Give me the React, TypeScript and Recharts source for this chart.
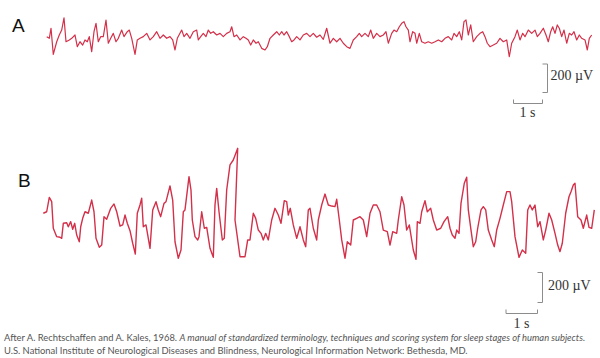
import React from 'react';
import { LineChart, Line, XAxis, YAxis } from 'recharts';

// trace A (time in s, amplitude in µV)
const timeA = [
    0.223, 0.31, 0.367, 0.443, 0.557, 0.643, 0.723, 0.8, 0.867, 0.977, 1.057, 1.167, 1.243, 1.333, 1.423, 1.5,
    1.577, 1.643, 1.723, 1.8, 1.867, 1.943, 2.023, 2.11, 2.2, 2.277, 2.357, 2.443, 2.533, 2.61, 2.723, 2.8,
    2.91, 2.977, 3.057, 3.167, 3.243, 3.333, 3.443, 3.557, 3.667, 3.777, 3.89, 4.0, 4.11, 4.223, 4.333, 4.423,
    4.5, 4.577, 4.723, 4.8, 4.89, 5.0, 5.11, 5.223, 5.277, 5.357, 5.443, 5.533, 5.61, 5.69, 5.777, 5.89,
    6.0, 6.11, 6.223, 6.333, 6.39, 6.467, 6.557, 6.667, 6.777, 6.867, 6.943, 7.023, 7.11, 7.2, 7.277, 7.39,
    7.5, 7.577, 7.667, 7.777, 7.89, 7.977, 8.057, 8.133, 8.223, 8.31, 8.39, 8.467, 8.557, 8.667, 8.777, 8.89,
    9.0, 9.11, 9.223, 9.333, 9.443, 9.557, 9.667, 9.777, 9.89, 10.0, 10.11, 10.223, 10.333, 10.443, 10.557, 10.643,
    10.723, 10.833, 10.943, 11.023, 11.11, 11.223, 11.333, 11.443, 11.533, 11.61, 11.723, 11.8, 11.89, 11.977, 12.057, 12.133,
    12.2, 12.277, 12.333, 12.423, 12.5, 12.557, 12.643, 12.723, 12.833, 12.943, 13.057, 13.167, 13.277, 13.39, 13.5, 13.61,
    13.723, 13.8, 13.89, 13.977, 14.057, 14.133, 14.2, 14.277, 14.357, 14.443, 14.557, 14.667, 14.757, 14.833, 14.91, 15.0,
    15.11, 15.223, 15.333, 15.443, 15.557, 15.643, 15.723, 15.833, 15.91, 16.0, 16.09, 16.167, 16.277, 16.39, 16.5, 16.577,
    16.667, 16.777, 16.867, 16.943, 17.023, 17.09, 17.167, 17.243, 17.31, 17.39, 17.467, 17.557, 17.643, 17.723, 17.8, 17.89,
    17.977, 18.057, 18.167, 18.243, 18.31, 18.39,
];
const voltA = [
    9, -2, 65, -109, -25, 20, 53, 135, -25, -13, -2, 20, -58, -25, -47, -13,
    -25, 9, -91, 42, 98, -25, 9, 9, 120, -35, -2, 31, -25, -2, 53, 9,
    42, 53, -2, -109, -13, -2, 9, 31, -13, 9, 42, -2, 20, -2, 9, -13,
    -80, -2, 53, 9, 31, -2, 42, 53, -13, 9, 31, 9, 53, 31, 42, 20,
    31, 9, 31, 42, 75, 9, 20, -13, 9, -2, -13, -47, -13, -35, -25, -69,
    -80, -58, -2, 20, 42, 20, 42, 20, 42, 9, -25, -13, 9, -13, 20, 31,
    9, 31, 5, 20, -9, 65, -35, -2, -25, -2, -35, -58, -69, -13, 9, 31,
    9, 31, 9, 53, -2, 31, 9, 20, 42, -35, 31, 53, 42, 75, 98, 109,
    75, 53, -25, 42, 31, -35, 31, -25, -35, -25, -35, -25, -13, -25, -2, 9,
    -13, 31, 9, 42, -13, 109, 120, 20, 87, -25, 9, 31, 42, 9, -35, -58,
    -47, -35, -2, -25, -13, -125, -35, 9, 53, -13, 31, 9, 53, 31, 53, 9,
    31, 65, 20, -25, 42, 75, 31, 87, 65, 9, 53, -35, 31, 20, 42, -13,
    20, -2, -13, -80, -2, 20,
];

// trace B (time in s, amplitude in µV)
const timeB = [
    0.11, 0.223, 0.31, 0.39, 0.443, 0.557, 0.667, 0.723, 0.777, 0.89, 0.943, 1.023, 1.09, 1.157, 1.223, 1.31,
    1.357, 1.423, 1.5, 1.61, 1.723, 1.8, 1.867, 1.977, 2.057, 2.133, 2.223, 2.357, 2.467, 2.557, 2.667, 2.757,
    2.833, 2.91, 3.0, 3.09, 3.177, 3.243, 3.333, 3.39, 3.443, 3.533, 3.667, 3.757, 3.867, 3.943, 4.023, 4.133,
    4.2, 4.333, 4.423, 4.5, 4.61, 4.7, 4.777, 4.833, 4.967, 5.033, 5.077, 5.167, 5.257, 5.3, 5.39, 5.477,
    5.557, 5.667, 5.777, 5.833, 5.89, 5.967, 6.077, 6.143, 6.223, 6.333, 6.443, 6.59, 6.5, 6.667, 6.833, 6.923,
    7.0, 7.11, 7.19, 7.277, 7.367, 7.443, 7.523, 7.61, 7.723, 7.833, 7.943, 8.033, 8.143, 8.223, 8.277, 8.343,
    8.443, 8.557, 8.667, 8.777, 8.857, 8.943, 9.0, 9.11, 9.223, 9.277, 9.39, 9.5, 9.61, 9.723, 9.833, 9.89,
    9.977, 10.057, 10.167, 10.243, 10.357, 10.443, 10.557, 10.667, 10.777, 10.89, 11.0, 11.11, 11.223, 11.333, 11.443, 11.577,
    11.667, 11.757, 11.89, 11.943, 12.057, 12.133, 12.223, 12.31, 12.443, 12.533, 12.577, 12.667, 12.723, 12.833, 12.91, 13.023,
    13.11, 13.223, 13.357, 13.467, 13.59, 13.667, 13.743, 13.833, 13.89, 13.967, 14.033, 14.143, 14.223, 14.277, 14.367, 14.443,
    14.523, 14.59, 14.7, 14.777, 14.857, 14.943, 15.057, 15.143, 15.223, 15.333, 15.443, 15.557, 15.667, 15.723, 15.833, 15.967,
    16.077, 16.19, 16.257, 16.333, 16.41, 16.5, 16.59, 16.667, 16.777, 16.857, 16.967, 17.057, 17.167, 17.257, 17.333, 17.41,
    17.523, 17.633, 17.7, 17.777, 17.833, 17.923, 18.033, 18.11, 18.223, 18.3, 18.39, 18.477,
];
const voltB = [
    -55, -45, 51, 22, -155, -211, -215, -222, -122, -118, -145, -111, -162, -122, -200, -245,
    -145, -89, -45, -55, 33, -45, -222, -282, -267, -78, -95, -22, 7, -45, -140, -133,
    -67, -122, -171, -255, -327, -55, 0, 45, -145, -133, -289, -33, 22, -33, -78, 11,
    22, 127, 33, -245, -355, -300, -45, -33, 189, 100, -100, -211, -233, -211, -45, -155,
    -149, -289, -349, 0, 111, -45, -233, -222, 100, 267, 300, 378, -100, -345, -345, -233,
    -233, -55, -89, -167, -189, -233, -189, -233, -100, -22, -67, -122, 29, 22, -67, -22,
    -133, -222, -145, -233, -278, -33, -22, -155, -233, -100, 0, 73, 0, -7, -11, 38,
    -100, -233, -355, -245, -267, -100, -89, -78, -100, -211, -55, 0, 0, -45, -167, -178,
    -267, -178, -189, -100, 55, 0, -167, -133, -300, -362, -111, -122, -45, 29, -45, -22,
    -100, -167, -155, -111, -78, -155, -200, -222, -167, -189, 11, 145, 185, -33, -167, -278,
    -245, -155, -33, -11, -33, -167, -233, -278, -167, -89, 0, 89, 89, 22, -211, -349,
    -300, -322, -33, 0, -33, 0, -145, -111, -233, -167, -55, -100, -189, -267, -311, -255,
    -55, 55, 89, 133, 145, -78, -100, -155, -67, -149, -155, -33,
];

const traceA = timeA.map((t, i) => ({ t, v: voltA[i] }));
const traceB = timeB.map((t, i) => ({ t, v: voltB[i] }));

const RED = '#d3304a';
const BAR = '#8c8c8c';

const Trace = ({ data, top, height, range, width }: { data: { t: number; v: number }[]; top: number; height: number; range: number; width: number }) => (
    <div style={{ position: 'absolute', left: 40, top }}>
        <LineChart width={555} height={height} data={data} margin={{ top: 0, right: 0, bottom: 0, left: 0 }}>
            <XAxis dataKey="t" type="number" domain={[0, 18.5]} hide />
            <YAxis type="number" domain={[-range, range]} hide />
            <Line
                type="linear"
                dataKey="v"
                stroke={RED}
                strokeWidth={width}
                strokeLinejoin="round"
                dot={false}
                isAnimationActive={false}
            />
        </LineChart>
    </div>
);

const ScaleBar = ({ x, y0, y1, hx0, hy }: { x: number; y0: number; y1: number; hx0: number; hy: number }) => (
    <g stroke={BAR} strokeWidth={1} fill="none">
        <path d={`M${x - 5},${y0} H${x} V${y1} H${x - 5}`} />
        <path d={`M${hx0},${hy - 4} V${hy} H${x - 5} V${hy - 4}`} />
    </g>
);

export default function App() {
    return (
        <div style={{ position: 'absolute', left: 0, top: 0, width: 600, height: 358, background: '#fff', overflow: 'hidden' }}>
            <Trace data={traceA} top={8} height={60} range={200} width={1.2} />
            <Trace data={traceB} top={130} height={150} range={500} width={1.4} />
            <svg width={600} height={358} style={{ position: 'absolute', left: 0, top: 0 }}>
                <text x={12} y={31.5} fontFamily="Liberation Sans, Arial, sans-serif" fontSize={19} fill="#111">A</text>
                <text x={18} y={187} fontFamily="Liberation Sans, Arial, sans-serif" fontSize={19} fill="#111">B</text>

                <ScaleBar x={547.5} y0={64} y1={92.5} hx0={513.5} hy={103.5} />
                <text x={550.5} y={80} fontFamily="Liberation Serif, serif" fontSize={14} fill="#333">200 µV</text>
                <text x={527.5} y={116.5} textAnchor="middle" fontFamily="Liberation Serif, serif" fontSize={14} fill="#333">1 s</text>

                <ScaleBar x={542.5} y0={272.5} y1={302.5} hx0={506} hy={313.5} />
                <text x={548} y={290} fontFamily="Liberation Serif, serif" fontSize={14} fill="#333">200 µV</text>
                <text x={521.5} y={328} textAnchor="middle" fontFamily="Liberation Serif, serif" fontSize={14} fill="#333">1 s</text>

                <text x={4} y={341} fontFamily="Lato, sans-serif" fontSize={9.4} fill="#555">
                    After A. Rechtschaffen and A. Kales, 1968.{' '}
                    <tspan fontStyle="italic">A manual of standardized terminology, techniques and scoring system for sleep stages of human subjects.</tspan>
                </text>
                <text x={4} y={354} fontFamily="Lato, sans-serif" fontSize={9.4} fill="#555">
                    U.S. National Institute of Neurological Diseases and Blindness, Neurological Information Network: Bethesda, MD.
                </text>
            </svg>
        </div>
    );
}
